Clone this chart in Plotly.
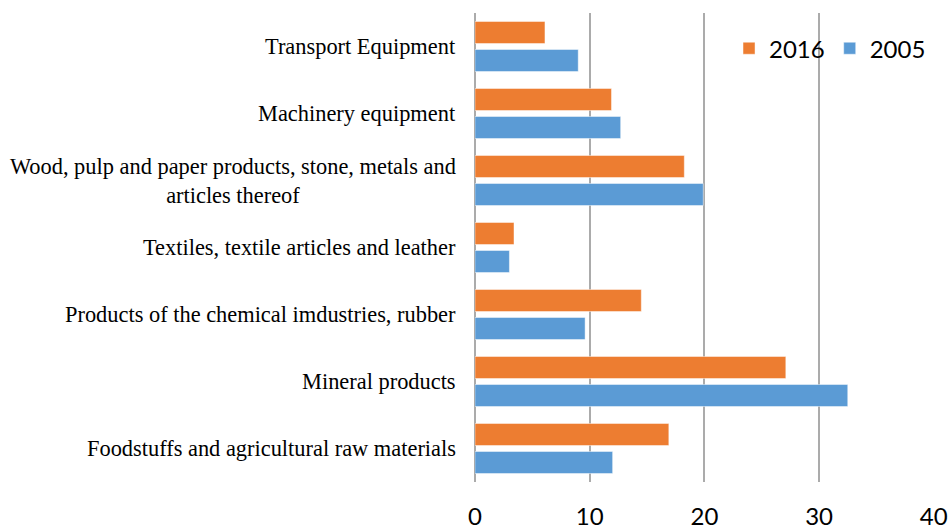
import plotly.graph_objects as go

categories = [
    "Foodstuffs and agricultural raw materials",
    "Mineral products",
    "Products of the chemical imdustries, rubber",
    "Textiles, textile articles and leather",
    "Wood, pulp and paper products, stone, metals and<br>articles thereof",
    "Machinery equipment",
    "Transport Equipment",
]
values_2005 = [12.0, 32.5, 9.6, 3.0, 19.9, 12.7, 9.0]
values_2016 = [16.9, 27.1, 14.5, 3.4, 18.25, 11.9, 6.1]
x_ticks = [0, 10, 20, 30, 40]

fig = go.Figure()
fig.add_trace(go.Bar(
    y=categories, x=values_2005, orientation="h", name="2005",
    marker=dict(color="#5B9BD5", line=dict(color="rgba(255,255,255,0.45)", width=1)),
))
fig.add_trace(go.Bar(
    y=categories, x=values_2016, orientation="h", name="2016",
    marker=dict(color="#ED7D31", line=dict(color="rgba(255,255,255,0.45)", width=1)),
))

for c in categories:
    fig.add_annotation(
        x=0, xref="paper", y=c, yref="y", text=c, showarrow=False,
        xanchor="right", xshift=-17, align="center",
        font=dict(family="Liberation Serif", size=22.4, color="#000000"),
    )

fig.update_layout(
    width=952, height=529,
    margin=dict(l=475, r=18, t=13, b=47),
    paper_bgcolor="white", plot_bgcolor="white",
    barmode="group", bargap=0.164, bargroupgap=0.214,
    showlegend=True,
    legend=dict(
        orientation="h", traceorder="reversed",
        x=0.9935, xanchor="right", y=0.972, yanchor="top",
        bgcolor="rgba(0,0,0,0)",
        font=dict(family="Lato", size=24, color="#000000"),
    ),
    xaxis=dict(
        range=[0, 40.02], tickvals=x_ticks, ticktext=[str(t) for t in x_ticks],
        showgrid=True, gridcolor="#ababab", gridwidth=1.6,
        zeroline=True, zerolinecolor="#ababab", zerolinewidth=1.6,
        showline=False, ticks="", ticklabelstandoff=18, automargin=False,
        tickfont=dict(family="Lato", size=24, color="#000000"),
        fixedrange=True,
    ),
    yaxis=dict(
        categoryorder="array", categoryarray=categories,
        showticklabels=False, showgrid=False, zeroline=False, ticks="",
        range=[-0.5, 6.5], fixedrange=True, automargin=False,
    ),
)

fig.write_html(
    "out.html",
    config={"displayModeBar": False},
    post_script="document.body.style.margin='0';document.body.style.padding='0';",
)
